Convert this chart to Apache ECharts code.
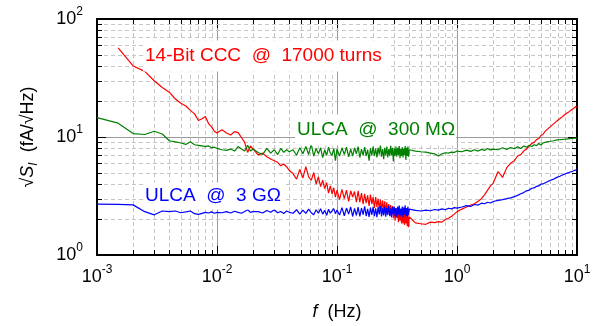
<!DOCTYPE html>
<html>
<head>
<meta charset="utf-8">
<script src="https://cdn.jsdelivr.net/npm/echarts@6/dist/echarts.min.js"></script>
<style>html,body{margin:0;padding:0;background:#fff}#c{width:605px;height:326px}</style>
</head>
<body>
<div id="c"></div>
<script>
// ---- frequencies (Hz), shared by all three spectra ----
const freqs = [
  0.001,0.0015,0.002,0.0025,0.003,0.0035,0.004,0.0045,0.005,0.0055,0.006,0.0065,0.007,0.0075,0.008,0.0085,0.009,0.0095,0.01,
  0.011,0.012,0.013,0.014,0.015,0.016,0.017,0.018,0.019,0.02,
  0.022,0.024,0.026,0.028,0.03,0.032,0.034,0.036,0.038,0.04,
  0.043,0.046,0.049,0.052,0.055,0.058,0.061,0.064,0.067,0.07,0.073,0.076,0.079,0.082,0.085,0.088,0.091,0.094,0.097,0.1,
  0.105,0.11,0.115,0.12,0.125,0.13,0.135,0.14,0.145,0.15,
  0.155,0.16,0.165,0.17,0.175,0.18,0.185,0.19,0.195,0.2,
  0.205,0.21,0.215,0.22,0.225,0.23,0.235,0.24,0.245,0.25,
  0.255,0.26,0.265,0.27,0.275,0.28,0.285,0.29,0.295,0.3,
  0.305,0.31,0.315,0.32,0.325,0.33,0.335,0.34,0.345,0.35,
  0.355,0.36,0.365,0.37,0.375,0.38,0.385,0.39,0.395,0.4,
  0.45,0.5,0.55,0.6,0.65,0.7,0.75,0.8,0.85,0.9,0.95,1,
  1.1,1.2,1.3,1.4,1.5,1.6,1.7,1.8,1.9,2,
  2.2,2.4,2.6,2.8,3,3.2,3.4,3.6,3.8,4,
  4.2,4.4,4.6,4.8,5,5.2,5.4,5.6,5.8,6,
  6.2,6.4,6.6,6.8,7,7.2,7.4,7.6,7.8,8,
  8.2,8.4,8.6,8.8,9,9.2,9.4,9.6,9.8,10
];

// ---- 14-Bit CCC @ 17000 turns (fA/sqrt(Hz)) ----
const cccValues = [
  null,57,40,36,30,26.3,24,21,19.3,18.3,16.8,15.7,13.8,14.3,14.9,13.0,12.2,11.2,10.8,
  11.5,10.8,10.4,11.1,10.9,9.9,9.0,7.4,8.4,7.9,
  7.05,7.3,6.8,6.5,6.3,6.1,5.7,5.9,5.6,5.2,
  4.9,4.4,5.3,4.5,5.6,4.6,4.3,5.0,4.0,4.6,3.8,4.3,3.65,4.1,3.35,3.85,3.3,3.7,3.1,3.55,
  2.95,3.6,3.0,3.55,2.85,3.5,3.1,3.45,2.8,3.5,
  2.8,3.35,2.7,3.3,2.75,3.2,2.6,3.25,2.7,3.1,
  2.5,3.1,2.55,3.0,2.45,2.95,2.4,2.9,2.35,2.85,
  2.25,2.8,2.3,2.7,2.15,2.65,2.2,2.6,2.05,2.55,
  1.95,2.5,2.05,2.45,1.9,2.45,1.95,2.4,1.85,2.35,
  1.85,2.4,1.8,2.3,1.85,2.35,1.75,2.25,1.72,2.1,
  1.87,1.84,1.82,1.9,1.88,1.92,1.9,2.0,2.05,2.13,2.22,2.33,
  2.45,2.55,2.65,2.72,2.85,3.0,3.25,3.55,3.85,4.05,
  5.1,4.55,5.5,6.0,6.3,6.9,7.1,7.6,7.9,8.4,
  8.8,9.0,9.5,9.7,10.3,10.5,11.1,11.2,11.9,12.0,
  12.6,12.5,13.3,13.4,14.0,13.8,14.6,14.5,15.3,15.1,
  15.9,15.6,16.4,16.2,17.0,16.7,17.5,17.2,18.1,17.8
];

// ---- ULCA @ 300 MOhm ----
const ulca300Values = [
  14.6,13.1,10.7,10.5,11.2,10.6,9.3,9.1,8.9,8.65,9.1,8.6,8.5,8.4,8.3,8.4,8.1,8.2,8.0,
  7.8,7.7,7.9,7.6,8.3,7.9,7.6,8.5,7.6,7.9,
  7.4,7.1,8.0,7.3,7.8,7.1,8.0,7.4,7.8,7.5,
  7.8,7.0,8.1,7.2,8.3,7.1,8.7,6.9,8.0,7.2,8.1,6.7,7.8,7.0,8.2,7.3,7.0,8.0,6.3,7.9,
  6.9,8.1,7.1,8.2,6.8,7.9,6.9,8.1,7.2,8.3,
  6.7,7.9,7.0,8.2,6.9,7.8,6.3,8.0,7.0,8.3,
  6.9,8.0,6.7,8.1,7.1,8.6,6.8,7.9,6.5,8.1,
  7.0,8.3,6.7,7.9,6.9,8.5,7.0,8.1,6.2,8.0,
  6.9,8.3,6.8,8.1,7.0,8.4,6.6,7.9,6.9,8.2,
  6.7,8.0,7.0,8.4,6.4,8.1,6.9,8.3,6.8,7.8,
  7.6,7.5,7.45,7.3,7.2,6.9,7.2,7.35,7.3,7.45,7.4,7.6,
  7.5,7.75,7.55,7.8,7.6,7.85,7.7,8.0,7.75,7.9,
  7.8,8.1,7.85,8.15,7.95,8.25,8.0,8.4,8.2,8.5,
  8.3,8.6,8.45,8.8,8.55,8.9,8.7,9.1,8.8,9.2,
  8.95,9.3,9.0,9.45,9.1,9.5,9.15,9.55,9.2,9.6,
  9.25,9.65,9.3,9.7,9.35,9.75,9.4,9.8,9.45,9.7
];

// ---- ULCA @ 3 GOhm ----
const ulca3gValues = [
  2.70,2.69,2.66,2.33,2.19,2.36,2.33,2.36,2.28,2.32,2.36,2.24,2.21,2.25,2.30,2.27,2.32,2.26,2.30,
  2.28,2.33,2.27,2.35,2.30,2.26,2.34,2.42,2.30,2.33,
  2.33,2.27,2.38,2.30,2.42,2.28,2.34,2.25,2.36,2.30,
  2.26,2.42,2.22,2.40,2.25,2.45,2.28,2.19,2.42,2.26,2.47,2.22,2.39,2.17,2.44,2.26,2.22,2.47,2.24,2.41,
  2.18,2.52,2.15,2.50,2.22,2.55,2.12,2.48,2.17,2.54,
  2.12,2.50,2.20,2.58,2.14,2.46,2.10,2.52,2.19,2.56,
  2.13,2.49,2.09,2.55,2.21,2.60,2.12,2.48,2.16,2.57,
  2.11,2.50,2.18,2.62,2.13,2.47,2.08,2.55,2.21,2.58,
  2.14,2.50,2.10,2.57,2.20,2.63,2.12,2.48,2.17,2.58,
  2.09,2.53,2.21,2.64,2.14,2.50,2.11,2.58,2.18,2.45,
  2.39,2.36,2.40,2.37,2.43,2.40,2.46,2.42,2.49,2.46,2.52,2.50,
  2.55,2.62,2.58,2.68,2.65,2.75,2.72,2.80,2.76,2.84,
  2.90,2.95,3.0,3.05,3.12,3.2,3.3,3.38,3.5,3.55,
  3.68,3.7,3.82,3.85,3.98,4.0,4.12,4.15,4.28,4.3,
  4.42,4.4,4.55,4.55,4.7,4.65,4.82,4.78,4.92,4.88,
  5.02,4.97,5.1,5.05,5.2,5.12,5.28,5.22,5.35,5.3
];

// ---- axis ticks ----
const xMinorTicks = [0.002,0.003,0.004,0.005,0.006,0.007,0.008,0.009,
  0.02,0.03,0.04,0.05,0.06,0.07,0.08,0.09,
  0.2,0.3,0.4,0.5,0.6,0.7,0.8,0.9,
  2,3,4,5,6,7,8,9];
const yMinorTicks = [2,3,4,5,6,7,8,9,20,30,40,50,60,70,80,90];

const labels = {
  ccc: '14-Bit CCC  @  17000 turns',
  u300: 'ULCA  @  300 MΩ',
  u3g: 'ULCA  @  3 GΩ'
};

const FONT = '"Liberation Sans", Arial, Helvetica, sans-serif';

function pairs(vals) {
  const out = [];
  for (let i = 0; i < freqs.length; i++) {
    if (vals[i] != null) out.push([freqs[i], vals[i]]);
  }
  return out;
}

const tickRich = {
  b: { fontSize: 18, lineHeight: 26, fontFamily: FONT, color: '#000' },
  s: { fontSize: 12, lineHeight: 12, fontFamily: FONT, color: '#000', verticalAlign: 'top' }
};
function expLabel(v) {
  const e = Math.round(Math.log10(v));
  return '{b|10}{s|' + e + '}';
}

const chart = echarts.init(document.getElementById('c'), null, { renderer: 'canvas' });

function minorX(params, api) {
  const cs = params.coordSys;
  const x = Math.round(api.coord([api.value(0), 1])[0]) + 0.5;
  const top = cs.y, bot = cs.y + cs.height;
  return { type: 'group', children: [
    { type: 'line', shape: { x1: x, y1: top, x2: x, y2: bot }, style: { stroke: '#c6c6c6', lineWidth: 1, lineDash: [4, 3] } },
    { type: 'line', shape: { x1: x, y1: bot, x2: x, y2: bot - 5 }, style: { stroke: '#000', lineWidth: 1 } },
    { type: 'line', shape: { x1: x, y1: top, x2: x, y2: top + 5 }, style: { stroke: '#000', lineWidth: 1 } }
  ]};
}
function minorY(params, api) {
  const cs = params.coordSys;
  const y = Math.round(api.coord([0.001, api.value(1)])[1]) + 0.5;
  const l = cs.x, r = cs.x + cs.width;
  return { type: 'group', children: [
    { type: 'line', shape: { x1: l, y1: y, x2: r, y2: y }, style: { stroke: '#c6c6c6', lineWidth: 1, lineDash: [4, 3] } },
    { type: 'line', shape: { x1: l, y1: y, x2: l + 5, y2: y }, style: { stroke: '#000', lineWidth: 1 } },
    { type: 'line', shape: { x1: r, y1: y, x2: r - 5, y2: y }, style: { stroke: '#000', lineWidth: 1 } }
  ]};
}

const axisCommon = {
  type: 'log', logBase: 10,
  axisLine: { show: true, onZero: false, lineStyle: { color: '#000', width: 2 } },
  axisTick: { show: true, inside: true, length: 9, lineStyle: { color: '#000', width: 1 } },
  minorTick: { show: false },
  minorSplitLine: { show: false }
};

chart.setOption({
  animation: false,
  backgroundColor: '#fff',
  grid: { left: 97, right: 28, top: 19, bottom: 68, containLabel: false },
  xAxis: [
    Object.assign({}, axisCommon, {
      min: 0.001, max: 10, position: 'bottom',
      splitLine: { show: true, lineStyle: { color: '#9a9a9a', width: 1 } },
      axisLabel: { margin: 9, formatter: expLabel, rich: tickRich },
      name: '{i|f}{r|  (Hz)}', nameLocation: 'middle', nameGap: 48,
      nameTextStyle: { rich: {
        i: { fontSize: 18, fontStyle: 'italic', fontFamily: FONT, color: '#000' },
        r: { fontSize: 18, fontFamily: FONT, color: '#000' } } }
    }),
    Object.assign({}, axisCommon, {
      min: 0.001, max: 10, position: 'top',
      splitLine: { show: false }, axisLabel: { show: false }
    })
  ],
  yAxis: [
    Object.assign({}, axisCommon, {
      min: 1, max: 100, position: 'left',
      splitLine: { show: true, lineStyle: { color: '#9a9a9a', width: 1 } },
      axisLabel: { margin: 14, formatter: expLabel, rich: tickRich },
      name: '{r|√}{i|S}{sub|I}{r|  (fA/√Hz)}', nameLocation: 'middle', nameRotate: 90, nameGap: 57,
      nameTextStyle: { rich: {
        r: { fontSize: 18, lineHeight: 24, fontFamily: FONT, color: '#000' },
        i: { fontSize: 18, lineHeight: 24, fontStyle: 'italic', fontFamily: FONT, color: '#000' },
        sub: { fontSize: 12, lineHeight: 12, fontStyle: 'italic', fontFamily: FONT, color: '#000', verticalAlign: 'bottom' } } }
    }),
    Object.assign({}, axisCommon, {
      min: 1, max: 100, position: 'right',
      splitLine: { show: false }, axisLabel: { show: false }
    })
  ],
  series: [
    { type: 'custom', name: 'xminor', xAxisIndex: 0, yAxisIndex: 0, z: 1, silent: true,
      renderItem: minorX, data: xMinorTicks.map(v => [v, 1]) },
    { type: 'custom', name: 'yminor', xAxisIndex: 0, yAxisIndex: 0, z: 1, silent: true,
      renderItem: minorY, data: yMinorTicks.map(v => [0.001, v]) },
    { type: 'line', name: labels.ccc, data: pairs(cccValues), showSymbol: false, symbol: 'none', z: 3,
      lineStyle: { color: '#ff0000', width: 1.2 }, itemStyle: { color: '#ff0000' } },
    { type: 'line', name: labels.u300, data: pairs(ulca300Values), showSymbol: false, symbol: 'none', z: 4,
      lineStyle: { color: '#008000', width: 1.2 }, itemStyle: { color: '#008000' } },
    { type: 'line', name: labels.u3g, data: pairs(ulca3gValues), showSymbol: false, symbol: 'none', z: 5,
      lineStyle: { color: '#0000ff', width: 1.2 }, itemStyle: { color: '#0000ff' } }
  ],
  graphic: [
    { type: 'text', x: 143, y: 56, z: 100,
      style: { text: labels.ccc, fill: '#ff0000', font: '19px ' + FONT, verticalAlign: 'middle',
               backgroundColor: '#fff', padding: [6, 6, 6, 2] } },
    { type: 'text', x: 295, y: 130, z: 100,
      style: { text: labels.u300, fill: '#008000', font: '19px ' + FONT, verticalAlign: 'middle',
               backgroundColor: '#fff', padding: [6, 1, 6, 2] } },
    { type: 'text', x: 143, y: 196, z: 100,
      style: { text: labels.u3g, fill: '#0000ff', font: '19px ' + FONT, verticalAlign: 'middle',
               backgroundColor: '#fff', padding: [4, 4, 4, 2] } }
  ]
});
</script>
</body>
</html>
